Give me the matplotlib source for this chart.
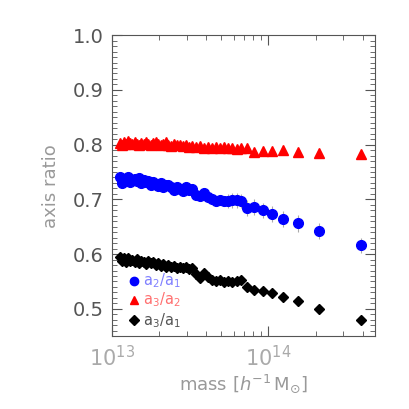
import matplotlib
matplotlib.use("Agg")
import matplotlib.pyplot as plt
from matplotlib.ticker import FixedLocator, MultipleLocator, NullFormatter, LogLocator

# halo mass bins (units of 1e13 h^-1 Msun)
mass = [1.125, 1.158, 1.192, 1.228, 1.264, 1.302, 1.341, 1.401, 1.443, 1.486,
        1.530, 1.599, 1.647, 1.696, 1.772, 1.824, 1.906, 1.963, 2.051, 2.113,
        2.208, 2.274, 2.376, 2.483, 2.594, 2.711, 2.833, 2.960, 3.093, 3.233,
        3.428, 3.635, 3.855, 4.088, 4.335, 4.597, 4.874, 5.168, 5.482, 5.850,
        6.250, 6.650, 7.244, 8.025, 9.158, 10.60, 12.46, 15.53, 21.12, 39.13]

a3_a2 = [0.803, 0.800, 0.805, 0.802, 0.806, 0.803, 0.801, 0.804, 0.802, 0.800,
         0.803, 0.801, 0.804, 0.802, 0.800, 0.803, 0.805, 0.801, 0.799, 0.802,
         0.804, 0.800, 0.798, 0.801, 0.799, 0.800, 0.797, 0.799, 0.796, 0.798,
         0.795, 0.797, 0.794, 0.796, 0.794, 0.795, 0.793, 0.795, 0.793, 0.794,
         0.792, 0.793, 0.794, 0.786, 0.788, 0.788, 0.790, 0.787, 0.784, 0.782]

a2_a1 = [0.740, 0.729, 0.738, 0.733, 0.741, 0.731, 0.736, 0.737, 0.733, 0.739,
         0.729, 0.735, 0.732, 0.733, 0.727, 0.731, 0.728, 0.724, 0.729, 0.722,
         0.726, 0.727, 0.723, 0.718, 0.722, 0.719, 0.716, 0.722, 0.717, 0.719,
         0.708, 0.707, 0.711, 0.704, 0.700, 0.697, 0.699, 0.697, 0.697, 0.698,
         0.698, 0.697, 0.684, 0.686, 0.680, 0.673, 0.664, 0.656, 0.642, 0.616]

a2_a1_err = [0.004] * 30 + [0.006] * 8 + [0.012, 0.013, 0.013, 0.013, 0.014,
             0.014, 0.014, 0.014, 0.015, 0.015, 0.015, 0.014]

a3_a1 = [0.594, 0.587, 0.592, 0.586, 0.593, 0.588, 0.590, 0.586, 0.591, 0.584,
         0.588, 0.585, 0.582, 0.587, 0.583, 0.586, 0.580, 0.584, 0.578, 0.582,
         0.577, 0.580, 0.576, 0.578, 0.574, 0.577, 0.575, 0.576, 0.573, 0.575,
         0.563, 0.557, 0.566, 0.559, 0.553, 0.550, 0.552, 0.549, 0.551, 0.549,
         0.550, 0.553, 0.540, 0.535, 0.533, 0.529, 0.522, 0.514, 0.500, 0.479]

m = [v * 1e13 for v in mass]

fig = plt.figure(figsize=(4.09, 4.09), dpi=100)
ax = fig.add_axes([0.274, 0.178, 0.643, 0.736])

ax.errorbar(m, a2_a1, yerr=a2_a1_err, fmt="none", ecolor="#aaaaaa", elinewidth=0.8, zorder=1)
ax.plot(m, a3_a2, "^", color="red", ms=6.5, mec="red", zorder=3)
ax.plot(m, a2_a1, "o", color="blue", ms=7, mec="blue", zorder=3)
ax.plot(m, a3_a1, "D", color="black", ms=5.5, mec="black", zorder=3)

ax.set_xscale("log")
ax.set_xlim(1e13, 4.8e14)
ax.set_ylim(0.45, 1.0)

ax.yaxis.set_major_locator(FixedLocator([0.5, 0.6, 0.7, 0.8, 0.9, 1.0]))
ax.yaxis.set_minor_locator(MultipleLocator(0.01))
ax.set_yticklabels(["0.5", "0.6", "0.7", "0.8", "0.9", "1.0"])
ax.xaxis.set_major_locator(FixedLocator([1e13, 1e14]))
ax.xaxis.set_minor_locator(LogLocator(base=10, subs=range(2, 10)))
ax.xaxis.set_minor_formatter(NullFormatter())
ax.set_xticklabels([r"$10^{13}$", r"$10^{14}$"])

ax.tick_params(which="both", direction="in", top=True, right=True, color="#555555")
ax.tick_params(which="major", length=7, width=0.8)
ax.tick_params(which="minor", length=3.5, width=0.6)
ax.tick_params(axis="y", labelsize=14, labelcolor="#555555", pad=6)
ax.tick_params(axis="x", labelsize=15, labelcolor="#aaaaaa", pad=6)
for s in ax.spines.values():
    s.set_color("#555555")
    s.set_linewidth(0.8)

ax.set_ylabel("axis ratio", fontsize=13, color="#999999", labelpad=9)
ax.set_xlabel(r"mass $[h^{-1}\,\mathrm{M}_{\odot}]$", fontsize=13, color="#999999", labelpad=2)

# legend drawn by hand
labels = [r"a$_2$/a$_1$", r"a$_3$/a$_2$", r"a$_3$/a$_1$"]
markers = ["o", "^", "D"]
mcolors = ["blue", "red", "black"]
tcolors = ["#8080ff", "#ff7070", "#555555"]
ly = [0.185, 0.12, 0.053]
for lab, mk, mc, tc, yy in zip(labels, markers, mcolors, tcolors, ly):
    ax.plot([0.083], [yy], mk, color=mc, ms=6 if mk != "D" else 5,
            transform=ax.transAxes, clip_on=False)
    ax.text(0.118, yy, lab, color=tc, fontsize=10.5, va="center", transform=ax.transAxes)

fig.savefig("out.png", dpi=100)
